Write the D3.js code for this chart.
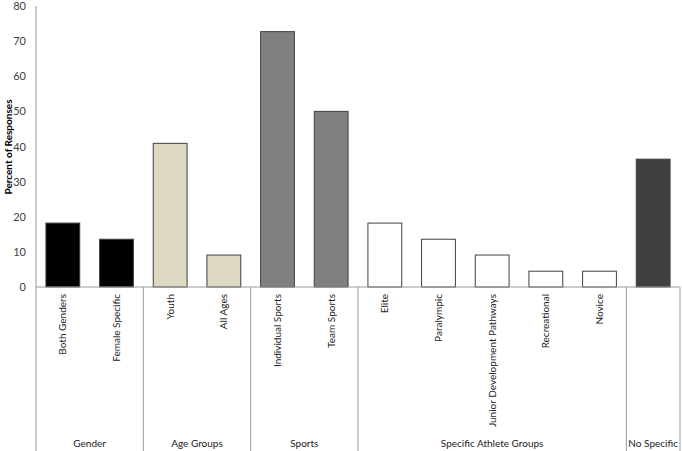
<!DOCTYPE html>
<html><head><meta charset="utf-8">
<script src="https://cdn.jsdelivr.net/npm/d3@7"></script>
<style>body{margin:0;background:#fff}svg{display:block}text{font-family:Lato,"Liberation Sans",sans-serif}</style>
</head><body>
<svg id="c" width="682" height="451"></svg>
<script>
const categories = ["Both Genders","Female Specific","Youth","All Ages","Individual Sports","Team Sports","Elite","Paralympic","Junior Development Pathways","Recreational","Novice",""];
const values = [18.2,13.6,40.9,9.1,72.7,50.0,18.2,13.6,9.1,4.5,4.5,36.4];
const groups = ["Gender","Gender","Age Groups","Age Groups","Sports","Sports","Specific Athlete Groups","Specific Athlete Groups","Specific Athlete Groups","Specific Athlete Groups","Specific Athlete Groups","No Specific"];
const groupColors = {"Gender":"#000000","Age Groups":"#DDD9C3","Sports":"#808080","Specific Athlete Groups":"#FFFFFF","No Specific":"#404040"};
const yTicks = [0,10,20,30,40,50,60,70,80];

(function(){
const FONT = 'Lato,"Liberation Sans",sans-serif';
const svg = d3.select("#c");
const mLeft = 36, mRight = 680, mTop = 6, base = 287, mBottom = 451;
const x = d3.scaleBand().domain(d3.range(categories.length)).range([mLeft,mRight]).paddingInner(0.37).paddingOuter(0.185);
const y = d3.scaleLinear().domain([0,80]).range([base,mTop]);
const step = x.step();

// y axis
const yAxis = d3.axisLeft(y).tickValues(yTicks).tickSize(0).tickPadding(10);
const ga = svg.append("g").attr("transform",`translate(${mLeft},0)`).call(yAxis);
ga.select(".domain").remove();
ga.selectAll("text").attr("font-size",11).attr("fill","#404040").attr("font-family",FONT);
svg.append("line").attr("x1",mLeft).attr("x2",mLeft).attr("y1",mTop).attr("y2",mBottom).attr("stroke","#999").attr("stroke-width",1);

// bars
svg.append("g").selectAll("rect").data(values).join("rect")
  .attr("x",(d,i)=>x(i)).attr("width",x.bandwidth())
  .attr("y",d=>y(d)).attr("height",d=>base-y(d))
  .attr("fill",(d,i)=>groupColors[groups[i]])
  .attr("stroke","#404040").attr("stroke-width",1);

// baseline
svg.append("line").attr("x1",mLeft).attr("x2",mRight).attr("y1",base).attr("y2",base).attr("stroke","#999");

// group separators and labels
const uniq = [];
groups.forEach((g,i)=>{ if(!uniq.length || uniq[uniq.length-1].name!==g) uniq.push({name:g,start:i,end:i}); else uniq[uniq.length-1].end=i; });
uniq.forEach(g=>{
  const x0 = mLeft + g.start*step, x1 = mLeft + (g.end+1)*step;
  svg.append("line").attr("x1",x1).attr("x2",x1).attr("y1",base).attr("y2",mBottom).attr("stroke","#999");
  svg.append("text").attr("x",(x0+x1)/2).attr("y",447).attr("text-anchor","middle").attr("font-size",10).attr("fill","#222").text(g.name);
});

// category labels
svg.append("g").selectAll("text").data(categories).join("text")
  .attr("transform",(d,i)=>`translate(${x(i)+x.bandwidth()/2+3.5},${base+7}) rotate(-90)`)
  .attr("text-anchor","end").attr("font-size",10).attr("fill","#222").text(d=>d);

// y title
svg.append("text").attr("transform","translate(8,147) rotate(-90)").attr("text-anchor","middle")
  .attr("dy","0.35em").attr("font-size",10).attr("font-weight","bold").attr("fill","#000").text("Percent of Responses");
})();
</script>
</body></html>
